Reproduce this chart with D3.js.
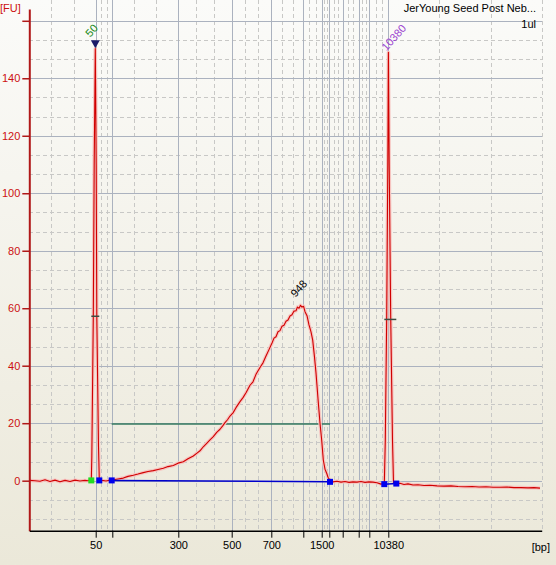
<!DOCTYPE html>
<html>
<head>
<meta charset="utf-8">
<script src="https://cdn.jsdelivr.net/npm/d3@7"></script>
<style>
  body { margin: 0; background: #ece9da; }
  svg { display: block; font-family: "Liberation Sans", Arial, sans-serif; }
</style>
</head>
<body>
<div id="vis-container"></div>
<script>
//width and height
var w = 556;
var h = 565;

// ladder (DNA 7500) - size in bp and migration time in s
var ladderBp   = [50, 100, 300, 500, 700, 1000, 1500, 2000, 3000, 5000, 7000, 10380];
var ladderTime = [23.64, 25.30, 31.90, 37.24, 41.20, 44.40, 46.24, 47.00, 48.34, 49.94, 51.00, 52.90];
var shownLabels = [50, 300, 500, 700, 1500, 10380];

var yTicks = [0, 20, 40, 60, 80, 100, 120, 140, 160];
var yLabels = ["0", "20", "40", "60", "80", "100", "120", "140", ""];

// electropherogram (time s, fluorescence FU)
var traceTime = [17.00, 17.57, 18.07, 18.57, 19.07, 19.57, 20.07, 20.57, 21.07, 21.57, 22.07, 22.57, 22.87, 23.07,
  23.20, 23.25, 23.40, 23.49, 23.60, 23.69, 23.75, 23.92, 24.00,
  24.27, 24.67, 25.07, 25.24,
  25.40, 25.87, 26.40, 26.87, 27.40, 27.87, 28.40, 28.87, 29.40, 29.87, 30.40, 30.87, 31.40, 31.87,
  32.40, 32.87, 33.40, 33.77, 34.07, 34.40, 34.74, 35.07, 35.40, 35.74, 36.07, 36.32, 36.57, 36.82,
  37.07, 37.37, 37.67, 38.07, 38.37, 38.67, 39.07, 39.37, 39.67, 40.07, 40.37, 40.67, 40.97, 41.27,
  41.47, 41.67, 41.87, 42.07, 42.27, 42.47, 42.67, 42.87, 43.07, 43.27, 43.47, 43.67, 43.82, 43.97,
  44.12, 44.27, 44.42, 44.57, 44.77, 44.97, 45.17, 45.34, 45.52, 45.67, 45.87, 46.07, 46.24, 46.40,
  46.57, 46.74, 46.87, 47.07,
  47.37, 47.77, 48.17, 48.57, 48.97, 49.37, 49.77, 50.17, 50.57, 50.97, 51.37, 51.77, 52.17, 52.37, 52.50,
  52.60, 52.74, 52.85, 52.91, 52.99, 53.14, 53.32, 53.42, 53.70,
  54.07, 54.47, 54.87, 55.37, 55.87, 56.47, 57.07, 57.77, 58.47, 59.17, 59.87, 60.57, 61.27, 61.97,
  62.67, 63.37, 64.07, 64.77, 65.47, 66.17, 66.87, 67.47, 68.07];
var traceFU = [0.1, 0.0, -0.2, 0.3, -0.3, 0.2, -0.4, 0.1, -0.3, 0.2, -0.1, 0.1, 0.0, 0.2,
  0.2, 8, 57, 110, 150.3, 110, 57, 12, 0.3,
  0.1, -0.1, 0.2, 0.2,
  0.3, 0.6, 0.9, 1.5, 1.9, 2.3, 2.8, 3.2, 3.5, 3.9, 4.3, 4.9, 5.3, 6.1,
  6.6, 7.6, 8.6, 9.6, 10.4, 11.8, 13.0, 14.2, 15.3, 16.8, 17.9, 19.0, 20.2, 21.2,
  22.5, 23.6, 25.4, 27.5, 28.9, 30.6, 33.2, 34.4, 37.0, 39.4, 41.0, 43.4, 45.6, 47.9,
  49.6, 50.1, 51.8, 52.2, 53.7, 54.1, 55.5, 55.9, 57.3, 57.7, 59.0, 59.1, 60.4, 60.0,
  61.0, 60.4, 60.7, 58.8, 57.4, 54.2, 51.8, 48.9, 43.0, 37.5, 28.5, 20.0, 14.1, 7.2,
  4.0, 2.6, 1.2, 0.1,
  -0.4, -0.2, -0.5, -0.3, -0.6, -0.4, -0.5, -0.3, -0.6, -0.4, -0.5, -0.7, -1.2, -0.9, -1.2,
  14, 57, 110, 149, 110, 57, 14, -0.6, -1.0,
  -0.9, -1.3, -1.1, -1.5, -1.4, -1.7, -1.6, -1.8, -1.9, -1.8, -2.0, -2.1, -2.0, -2.2,
  -2.1, -2.3, -2.3, -2.2, -2.4, -2.4, -2.5, -2.4, -2.6];

// peak start/end markers
var markerTime = [23.20, 24.00, 25.24, 47.07, 52.50, 53.70];
var markerFU   = [0.1, 0.1, 0.1, -0.4, -1.2, -1.0];
var markerColor = ["#22dd22", "#0000ee", "#0000ee", "#0000ee", "#0000ee", "#0000ee"];

// peak labels
var peakLabels = ["50", "948", "10380"];
var peakTime = [23.60, 44.12, 52.91];
var peakFU = [150.3, 61.2, 149];
var peakColor = ["#1b8a1b", "#000000", "#9a3fd0"];

// smear region and marker mid lines
var regionStart = 25.24, regionEnd = 47.07, regionFU = 19.7;
var halfLines = [[23.20, 24.00, 57.2], [52.50, 53.70, 56.1]];

var xScale = d3.scaleLinear().domain([17, 68.24]).range([29.3, 541.7]);
var yScale = d3.scaleLinear().domain([-17.4, 164.1]).range([530.7, 9]);

var svg = d3.select("#vis-container").append("svg")
    .attr("width", w)
    .attr("height", h);

var defs = svg.append("defs");
var grad = defs.append("linearGradient").attr("id", "bg").attr("x1", 0).attr("y1", 0).attr("x2", 0).attr("y2", 1);
grad.append("stop").attr("offset", "0%").attr("stop-color", "#fbfbf9");
grad.append("stop").attr("offset", "100%").attr("stop-color", "#ebe8d9");
svg.append("rect").attr("width", w).attr("height", h).attr("fill", "url(#bg)");

// minor gridlines at thirds between ladder lines
var edges = [xScale.domain()[0]].concat(ladderTime, [xScale.domain()[1]]);
var minorX = [];
for (var i = 0; i < edges.length - 1; i++) {
    var step = (edges[i + 1] - edges[i]) / 3;
    minorX.push(edges[i] + step, edges[i] + 2 * step);
}
minorX.push(xScale.domain()[1]);
var minorY = [];
for (var v = -20; v < 160; v += 20) {
    [v + 20 / 3, v + 40 / 3].forEach(function (m) {
        if (m > yScale.domain()[0]) minorY.push(m);
    });
}

var grid = svg.append("g").attr("shape-rendering", "crispEdges");
grid.selectAll(".vminor").data(minorX).enter().append("line")
    .attr("x1", function (d) { return Math.round(xScale(d)) + 0.5; })
    .attr("x2", function (d) { return Math.round(xScale(d)) + 0.5; })
    .attr("y1", 0).attr("y2", yScale.range()[0])
    .attr("stroke", "#c8c8c6").attr("stroke-dasharray", "4,3");
grid.selectAll(".hminor").data(minorY).enter().append("line")
    .attr("x1", xScale.range()[0]).attr("x2", xScale.range()[1])
    .attr("y1", function (d) { return Math.round(yScale(d)) + 0.5; })
    .attr("y2", function (d) { return Math.round(yScale(d)) + 0.5; })
    .attr("stroke", "#c8c8c6").attr("stroke-dasharray", "4,3");
grid.selectAll(".vmajor").data(ladderTime).enter().append("line")
    .attr("x1", function (d) { return Math.round(xScale(d)) + 0.5; })
    .attr("x2", function (d) { return Math.round(xScale(d)) + 0.5; })
    .attr("y1", 0).attr("y2", yScale.range()[0])
    .attr("stroke", "#abb2bf");
grid.selectAll(".hmajor").data(yTicks).enter().append("line")
    .attr("x1", xScale.range()[0]).attr("x2", xScale.range()[1])
    .attr("y1", function (d) { return Math.round(yScale(d)) + 0.5; })
    .attr("y2", function (d) { return Math.round(yScale(d)) + 0.5; })
    .attr("stroke", "#abb2bf");

// smear region line
svg.append("line")
    .attr("x1", xScale(regionStart)).attr("x2", xScale(regionEnd))
    .attr("y1", yScale(regionFU)).attr("y2", yScale(regionFU))
    .attr("stroke", "#357a5f").attr("stroke-width", 1.6);

// trace
var trace = traceTime.map(function (t, i) { return [t, traceFU[i]]; });
var line = d3.line()
    .x(function (d) { return xScale(d[0]); })
    .y(function (d) { return yScale(d[1]); });
svg.append("path").datum(trace).attr("d", line)
    .attr("fill", "none").attr("stroke", "#f6c4c0").attr("stroke-width", 3.5).attr("stroke-linejoin", "round");
svg.append("path").datum(trace).attr("d", line)
    .attr("fill", "none").attr("stroke", "#d00000").attr("stroke-width", 1.1).attr("stroke-linejoin", "round");

// baselines between markers
[[2, 3], [4, 5]].forEach(function (p) {
    svg.append("line")
        .attr("x1", xScale(markerTime[p[0]])).attr("x2", xScale(markerTime[p[1]]))
        .attr("y1", yScale(markerFU[p[0]])).attr("y2", yScale(markerFU[p[1]]))
        .attr("stroke", "#0000cc").attr("stroke-width", 1.5);
});

// marker half-height lines
svg.selectAll(".half").data(halfLines).enter().append("line")
    .attr("x1", function (d) { return xScale(d[0]); })
    .attr("x2", function (d) { return xScale(d[1]); })
    .attr("y1", function (d) { return yScale(d[2]); })
    .attr("y2", function (d) { return yScale(d[2]); })
    .attr("stroke", "#3c4c42").attr("stroke-width", 1.5);

// start/end squares
svg.selectAll(".mk").data(markerTime).enter().append("rect")
    .attr("x", function (d) { return xScale(d) - 3; })
    .attr("y", function (d, i) { return yScale(markerFU[i]) - 3; })
    .attr("width", 6).attr("height", 6)
    .attr("fill", function (d, i) { return markerColor[i]; });

// lower marker triangle
var tx = xScale(peakTime[0]), ty = yScale(peakFU[0]) - 0.5;
svg.append("path")
    .attr("d", "M" + (tx - 4.5) + "," + (ty - 8) + "L" + (tx + 4.5) + "," + (ty - 8) + "L" + tx + "," + ty + "Z")
    .attr("fill", "#1a1a6a");

// peak labels
var plOffset = [[-5, -11], [-5, -7], [-2, -1]];
svg.selectAll(".pl").data(peakLabels).enter().append("text")
    .attr("transform", function (d, i) {
        return "translate(" + (xScale(peakTime[i]) + plOffset[i][0]) + "," + (yScale(peakFU[i]) + plOffset[i][1]) + ") rotate(-48)";
    })
    .attr("font-size", 11)
    .attr("fill", function (d, i) { return peakColor[i]; })
    .text(function (d) { return d; });

// y axis
var yAxis = d3.axisLeft(yScale).tickValues(yTicks).tickSize(7).tickSizeOuter(0)
    .tickFormat(function (d, i) { return yLabels[i]; });
var gy = svg.append("g").attr("transform", "translate(" + xScale.range()[0] + ",0)").call(yAxis);
gy.select(".domain").attr("stroke", "#b01818").attr("stroke-width", 2);
gy.selectAll(".tick line").attr("stroke", "#b01818").attr("stroke-width", 1.5);
gy.selectAll(".tick text").attr("fill", "#cc1010").attr("font-size", 11).attr("font-family", "Liberation Sans, Arial, sans-serif").attr("x", -9);

// x axis
var xAxis = d3.axisBottom(xScale).tickValues(ladderTime).tickSize(7).tickSizeOuter(0)
    .tickFormat(function (d, i) { return shownLabels.indexOf(ladderBp[i]) >= 0 ? ladderBp[i] : ""; });
var gx = svg.append("g").attr("transform", "translate(0," + yScale.range()[0] + ")").call(xAxis);
gx.select(".domain").attr("stroke", "#000").attr("stroke-width", 1.5);
gx.selectAll(".tick line").attr("stroke", "#000");
gx.selectAll(".tick text").attr("fill", "#000").attr("font-size", 11).attr("font-family", "Liberation Sans, Arial, sans-serif").attr("y", 11);

// unit labels
svg.append("text").attr("x", 0).attr("y", 12).attr("fill", "#cc1010").attr("font-size", 11).text("[FU]");
svg.append("text").attr("x", 550).attr("y", 551).attr("text-anchor", "end").attr("font-size", 11).text("[bp]");

// title
svg.append("text").attr("x", 536).attr("y", 12).attr("text-anchor", "end").attr("font-size", 11).text("JerYoung Seed Post Neb...");
svg.append("text").attr("x", 536).attr("y", 28).attr("text-anchor", "end").attr("font-size", 11).text("1ul");
</script>
</body>
</html>
